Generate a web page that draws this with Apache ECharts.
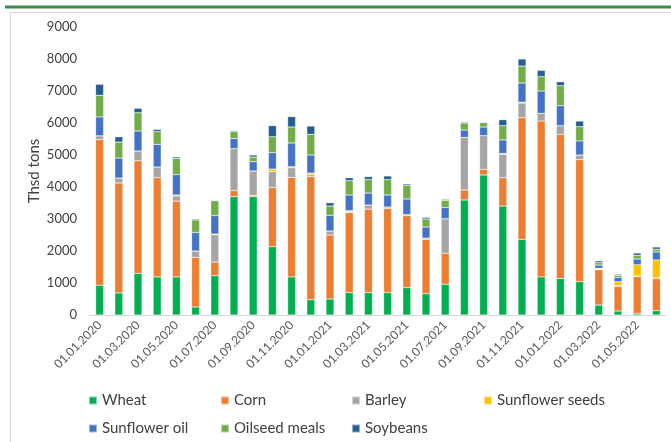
<!DOCTYPE html>
<html>
<head>
<meta charset="utf-8">
<script src="https://cdn.jsdelivr.net/npm/echarts@6/dist/echarts.min.js"></script>
<style>
  html, body { margin: 0; padding: 0; background: #fff; }
  #chart { width: 671px; height: 442px; }
</style>
</head>
<body>
<div id="chart"></div>
<script>
// monthly, 01.01.2020 .. 01.06.2022
const months = [
  '01.01.2020', '01.02.2020', '01.03.2020', '01.04.2020', '01.05.2020', '01.06.2020',
  '01.07.2020', '01.08.2020', '01.09.2020', '01.10.2020', '01.11.2020', '01.12.2020',
  '01.01.2021', '01.02.2021', '01.03.2021', '01.04.2021', '01.05.2021', '01.06.2021',
  '01.07.2021', '01.08.2021', '01.09.2021', '01.10.2021', '01.11.2021', '01.12.2021',
  '01.01.2022', '01.02.2022', '01.03.2022', '01.04.2022', '01.05.2022', '01.06.2022'
]

const wheat = [930, 690, 1300, 1190, 1190, 250, 1230, 3700, 3700, 2135, 1190, 480,
  500, 700, 700, 700, 855, 665, 960, 3595, 4375, 3405, 2365, 1190,
  1145, 1040, 310, 125, 50, 135]
const corn = [4550, 3435, 3520, 3100, 2370, 1550, 425, 185, 40, 1845, 3110, 3845,
  2000, 2500, 2610, 2630, 2250, 1700, 970, 310, 175, 885, 3800, 4870,
  4500, 3815, 1105, 760, 1150, 1000]
const barley = [120, 155, 305, 335, 160, 200, 855, 1315, 760, 500, 300, 60,
  125, 30, 125, 45, 30, 40, 1080, 1645, 1055, 730, 460, 240,
  270, 145, 15, 30, 20, 30]
const sunflowerSeeds = [0, 0, 0, 0, 30, 0, 20, 0, 0, 80, 35, 50,
  0, 30, 0, 0, 0, 0, 0, 0, 0, 30, 25, 0,
  0, 0, 30, 125, 350, 555]
const sunflowerOil = [590, 625, 625, 705, 635, 580, 575, 310, 290, 510, 740, 565,
  490, 490, 375, 375, 490, 345, 345, 230, 270, 420, 600, 700,
  625, 440, 100, 135, 180, 250]
const oilseedMeals = [675, 500, 570, 400, 510, 390, 465, 220, 145, 500, 500, 645,
  290, 450, 420, 480, 425, 250, 230, 220, 135, 445, 530, 450,
  625, 445, 75, 65, 115, 85]
const soybeans = [345, 165, 140, 70, 45, 30, 20, 30, 65, 350, 325, 260,
  105, 90, 95, 115, 45, 50, 30, 30, 20, 190, 220, 195,
  125, 175, 55, 30, 70, 70]

const seriesList = [
  { name: 'Wheat', data: wheat, color: '#00B050' },
  { name: 'Corn', data: corn, color: '#ED7D31' },
  { name: 'Barley', data: barley, color: '#A5A5A5' },
  { name: 'Sunflower seeds', data: sunflowerSeeds, color: '#FFC000' },
  { name: 'Sunflower oil', data: sunflowerOil, color: '#4472C4' },
  { name: 'Oilseed meals', data: oilseedMeals, color: '#70AD47' },
  { name: 'Soybeans', data: soybeans, color: '#255E91' }
]

const font = 'Lato, "Open Sans", sans-serif'
const legendText = { fontFamily: font, fontSize: 15, color: '#404040' }

// legend is a 4-column grid, one legend per entry
const legendCols = [83, 215, 346, 478]
const legendRows = [388, 416]

function legendItem(i, name) {
  return {
    left: legendCols[i % 4],
    top: legendRows[Math.floor(i / 4)],
    itemWidth: 8,
    itemHeight: 8,
    itemGap: 0,
    icon: 'rect',
    textStyle: legendText,
    data: [name]
  }
}

const chart = echarts.init(document.getElementById('chart'))
chart.setOption({
  animation: false,
  color: seriesList.map(s => s.color),
  graphic: [
    {
      type: 'line',
      shape: { x1: 5, y1: 7, x2: 671, y2: 7 },
      style: { stroke: '#3C8C4C', lineWidth: 3 }
    },
    {
      type: 'rect',
      shape: { x: 10.5, y: 12.5, width: 680, height: 440 },
      style: { fill: 'none', stroke: '#D9D9D9', lineWidth: 1 }
    }
  ],
  legend: seriesList.map((s, i) => legendItem(i, s.name)),
  grid: {
    left: 90,
    right: 5,
    top: 27,
    bottom: 127
  },
  xAxis: {
    type: 'category',
    data: months,
    axisLine: { lineStyle: { color: '#D9D9D9' } },
    axisTick: { interval: 1, lineStyle: { color: '#D9D9D9' }, length: 5 },
    axisLabel: {
      interval: 1,
      rotate: 45,
      fontFamily: font,
      fontSize: 12,
      color: '#595959',
      margin: 8
    }
  },
  yAxis: {
    type: 'value',
    min: 0,
    max: 9000,
    interval: 1000,
    name: 'Thsd tons',
    nameLocation: 'middle',
    nameGap: 48,
    nameMoveOverlap: false,
    nameTextStyle: { fontFamily: font, fontSize: 15, color: '#404040' },
    axisLine: { show: false },
    axisTick: { show: false },
    splitLine: { show: false },
    axisLabel: {
      fontFamily: font,
      fontSize: 13,
      color: '#404040',
      margin: 13,
      formatter: v => String(v)
    }
  },
  series: seriesList.map(s => ({
    name: s.name,
    type: 'bar',
    stack: 'total',
    barWidth: 8,
    data: s.data,
    itemStyle: { color: s.color, borderColor: 'rgba(255,255,255,0.5)', borderWidth: 0.5 }
  }))
})
</script>
</body>
</html>
